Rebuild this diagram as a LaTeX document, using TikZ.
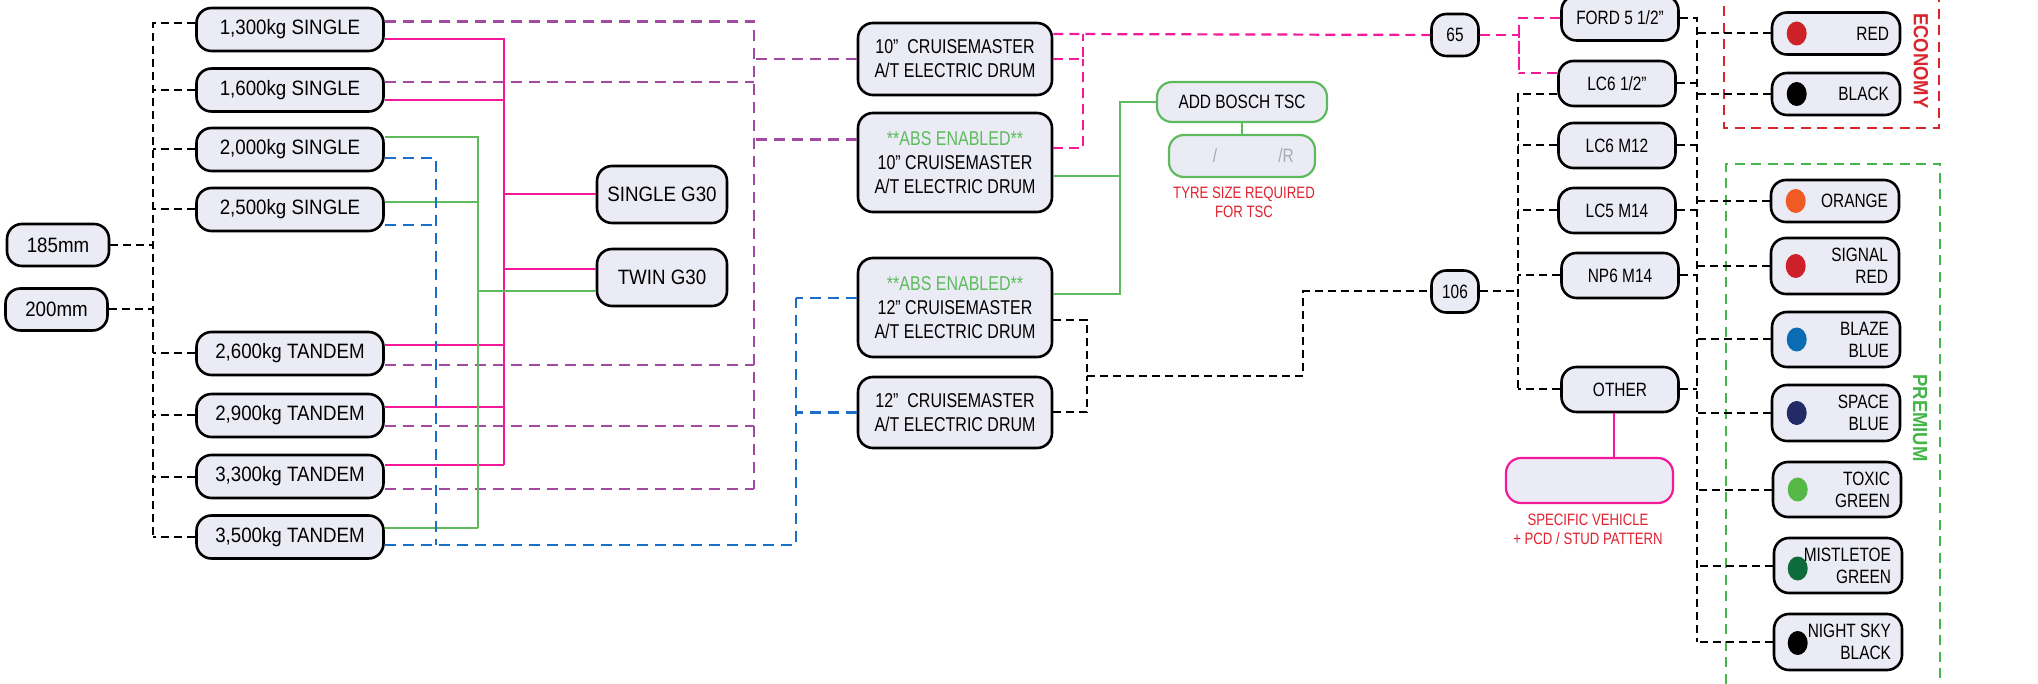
\documentclass[tikz,border=0pt]{standalone}
\usepackage{fontspec}
\setmainfont{Liberation Sans}[FakeStretch=0.9]
\newfontfamily\narrowfont{Liberation Sans}[FakeStretch=0.8]
\usetikzlibrary{positioning}

\definecolor{boxfill}{HTML}{EBEBF5}
\definecolor{plum}{HTML}{A349A4}
\definecolor{hotpink}{HTML}{F5189B}
\definecolor{leaf}{HTML}{5DBB5D}
\definecolor{sky}{HTML}{1A6FC8}
\definecolor{capred}{HTML}{E0202F}
\definecolor{tsgrey}{HTML}{A8A8B0}
\definecolor{ecored}{HTML}{D9262E}
\definecolor{premgreen}{HTML}{44B549}
\definecolor{dred}{HTML}{CE2029}
\definecolor{dorange}{HTML}{F05A24}
\definecolor{dblaze}{HTML}{0A6DB3}
\definecolor{dspace}{HTML}{232B66}
\definecolor{dtoxic}{HTML}{56B847}
\definecolor{dmist}{HTML}{0E6B3B}

\newcommand{\fbig}{\fontsize{20.8}{24}\selectfont}
\newcommand{\fdrum}{\narrowfont\fontsize{20}{24}\selectfont}
\newcommand{\fmid}{\narrowfont\fontsize{19.3}{22}\selectfont}
\newcommand{\fcap}{\narrowfont\fontsize{16.5}{19}\selectfont}
\newcommand{\fside}{\fontsize{20.5}{24}\selectfont\bfseries}

\begin{document}
\begin{tikzpicture}[x=1pt,y=-1pt,
  pill/.style={draw, line width=2.6pt, rounded corners=15pt, fill=boxfill, inner sep=0pt, align=center},
  sizebox/.style={pill, minimum width=102pt, minimum height=42pt, font=\fbig},
  wtbox/.style={pill, minimum width=187pt, minimum height=43pt, font=\fbig},
  gbox/.style={pill, minimum width=130pt, minimum height=57pt, font=\fbig},
  drumbox/.style={pill, minimum width=194pt, minimum height=72pt, font=\fdrum},
  numbox/.style={pill, minimum width=47pt, minimum height=42pt, font=\fmid},
  wheelbox/.style={pill, minimum width=117pt, minimum height=45pt, font=\fmid},
  colbox/.style={pill, minimum width=128pt, minimum height=42pt, text width=106pt, inner xsep=11pt, align=flush right, font=\fmid},
  tscbox/.style={pill, draw=leaf, line width=2.2pt, font=\fmid},
  blk/.style={draw=black, line width=2pt, dash pattern=on 8pt off 5pt},
  plumline/.style={draw=plum, line width=2.2pt, dash pattern=on 11pt off 7pt},
  pinkline/.style={draw=hotpink, line width=2pt},
  pinkdash/.style={draw=hotpink, line width=2.2pt, dash pattern=on 10pt off 6pt},
  leafline/.style={draw=leaf, line width=2pt},
  skydash/.style={draw=sky, line width=2.2pt, dash pattern=on 11pt off 7pt},
  groupdash/.style={line width=2pt, dash pattern=on 10pt off 6.5pt}]

\useasboundingbox (0,0) rectangle (2038,684);

% axle sizes and weights
\node[sizebox] (s185) at (58,245) {185mm};
\node[sizebox] (s200) at (56.5,309.5) {200mm};
\node[wtbox] (w1300) at (290,29.5) {1,300kg SINGLE};
\node[wtbox] (w1600) at (290,90) {1,600kg SINGLE};
\node[wtbox] (w2000) at (290,149.5) {2,000kg SINGLE};
\node[wtbox] (w2500) at (290,209.5) {2,500kg SINGLE};
\node[wtbox] (w2600) at (290,353.5) {2,600kg TANDEM};
\node[wtbox] (w2900) at (290,415.5) {2,900kg TANDEM};
\node[wtbox] (w3300) at (290,476.5) {3,300kg TANDEM};
\node[wtbox] (w3500) at (290,537) {3,500kg TANDEM};

\node[gbox] (sg30) at (662,194.5) {SINGLE G30};
\node[gbox] (tg30) at (662,277.5) {TWIN G30};

% brakes
\node[drumbox] (d10) at (955,59) {10”~~CRUISEMASTER\\A/T ELECTRIC DRUM};
\node[drumbox, minimum height=99pt] (a10) at (955,162.5) {\textcolor{leaf}{**ABS ENABLED**}\\10” CRUISEMASTER\\A/T ELECTRIC DRUM};
\node[drumbox, minimum height=99pt] (ab12) at (955,307.5) {\textcolor{leaf}{**ABS ENABLED**}\\12” CRUISEMASTER\\A/T ELECTRIC DRUM};
\node[drumbox, minimum height=71pt] (d12) at (955,412.5) {12”~~CRUISEMASTER\\A/T ELECTRIC DRUM};

\node[tscbox, minimum width=170pt, minimum height=40pt] (bosch) at (1242,102) {ADD BOSCH TSC};
\node[tscbox, minimum width=146pt, minimum height=42pt] (tyre) at (1242,156) {};
\node[font=\fmid, text=tsgrey] (slash1) at ([xshift=-27pt]tyre.center) {/};
\node[font=\fmid, text=tsgrey] (slash2) at ([xshift=44pt]tyre.center) {/R};
\node[font=\fcap, text=capred, align=center] (tyrecap) at (1244,202) {TYRE SIZE REQUIRED\\FOR TSC};

% studs
\node[numbox] (n65) at (1455,35) {65};
\node[numbox] (n106) at (1455,291.5) {106};
\node[wheelbox] (ford) at (1620,18) {FORD 5 1/2”};
\node[wheelbox] (l612) at (1617,83.5) {LC6 1/2”};
\node[wheelbox] (lm12) at (1617,145.5) {LC6 M12};
\node[wheelbox] (l5m14) at (1617,210.5) {LC5 M14};
\node[wheelbox] (np6) at (1620,275.5) {NP6 M14};
\node[wheelbox] (other) at (1620,389.5) {OTHER};
\node[pill, draw=hotpink, line width=2.2pt, minimum width=167pt, minimum height=45pt] (vehicle) at (1589.5,480.5) {};
\node[font=\fcap, text=capred, align=center] (vehcap) at (1588,529.5) {SPECIFIC VEHICLE\\+ PCD / STUD PATTERN};

% colours
\node[colbox] (red) at (1836,33.5) {RED};
\node[colbox] (black) at (1836,94) {BLACK};
\node[colbox] (orange) at (1835,201) {ORANGE};
\node[colbox, minimum height=56pt] (sigred) at (1835,266) {SIGNAL\\RED};
\node[colbox, minimum height=55pt] (blaze) at (1836,339.5) {BLAZE\\BLUE};
\node[colbox, minimum height=56pt] (space) at (1836,413) {SPACE\\BLUE};
\node[colbox, minimum height=55pt] (toxic) at (1837,489.5) {TOXIC\\GREEN};
\node[colbox, minimum height=55pt] (mist) at (1838,565.5) {MISTLETOE\\GREEN};
\node[colbox, minimum height=56pt] (nsky) at (1838,642) {NIGHT SKY\\BLACK};
\foreach \n/\c in {red/dred,black/black,orange/dorange,sigred/dred,blaze/dblaze,space/dspace,toxic/dtoxic}
  \fill[\c] ([xshift=26pt]\n.west) ellipse (10pt and 12pt);
\fill[dmist] ([xshift=25pt,yshift=-3pt]mist.west) ellipse (10pt and 12pt);
\fill[black] ([xshift=25pt,yshift=-1pt]nsky.west) ellipse (10pt and 12pt);

\draw[groupdash, draw=ecored] (1724,-10) |- (1939,128) -- (1939,-10);
\node[font=\fside, text=ecored, rotate=-90] (eco) at (1921,61) {ECONOMY};
\draw[groupdash, draw=premgreen] (1726,700) |- (1940,164) -- (1940,700);
\node[font=\fside, text=premgreen, rotate=-90] (prem) at (1920,418) {PREMIUM};

% size -> weight
\coordinate (jl) at (153,536);
\draw[blk] ([yshift=6pt]w1300.west) -| (jl);
\foreach \n in {w1600,w2000,w2500,w2600,w2900,w3300,w3500,s185,s200}
  \draw[blk] (\n) -- (\n -| jl);

% weight -> 10 inch drums
\coordinate (jp) at (754,489);
\draw[plumline] ([yshift=8pt]w1300.east) -| (jp);
\foreach \n/\s in {w1600/8,w2600/-11.5,w2900/-10.5,w3300/-12.5}
  \draw[plumline] ([yshift=\s pt]\n.east) -- ([yshift=\s pt]\n.east -| jp);
\draw[plumline] (d10) -- (d10 -| jp);
\draw[plumline] ([yshift=23pt]a10.west) -- ([yshift=23pt]a10.west -| jp);

% weight -> G30
\coordinate (jk) at (504,465);
\draw[pinkline] ([yshift=-9.5pt]w1300.east) -| (jk);
\foreach \n/\s in {w1600/-10,w2600/8.5,w2900/8.5,w3300/11.5}
  \draw[pinkline] ([yshift=\s pt]\n.east) -- ([yshift=\s pt]\n.east -| jk);
\draw[pinkline] (sg30) -- (sg30 -| jk);
\draw[pinkline] ([yshift=8.5pt]tg30.west) -- ([yshift=8.5pt]tg30.west -| jk);

\coordinate (jg) at (478,528);
\draw[leafline] ([yshift=12.5pt]w2000.east) -| (jg);
\foreach \n/\s in {w2500/7.5,w3500/9}
  \draw[leafline] ([yshift=\s pt]\n.east) -- ([yshift=\s pt]\n.east -| jg);
\draw[leafline] ([yshift=-13.5pt]tg30.west) -- ([yshift=-13.5pt]tg30.west -| jg);

% weight -> 12 inch drums
\coordinate (jb) at (436,545);
\coordinate (jb2) at (796,298);
\draw[skydash] ([yshift=-8.5pt]w2000.east) -| (jb);
\draw[skydash] ([yshift=-15.5pt]w2500.east) -- ([yshift=-15.5pt]w2500.east -| jb);
\draw[skydash] ([yshift=-8pt]w3500.east) -| (jb2);
\draw[skydash] ([yshift=9.5pt]ab12.west) -- (jb2);
\draw[skydash] (d12) -- (d12 -| jb2);

% drums -> studs
\coordinate (jd) at (1083,34);
\draw[pinkdash] ([yshift=25pt]d10.east) -- (n65);
\draw[pinkdash] (d10) -| (jd);
\draw[pinkdash] ([yshift=14.5pt]a10.east) -| (d10 -| jd);

\coordinate (jt) at (1120,102);
\draw[leafline] ([yshift=-13.5pt]a10.east) -| (jt) -- (bosch);
\draw[leafline] ([yshift=13.5pt]ab12.east) -| (jt);
\draw[leafline] (bosch) -- (tyre);

\coordinate (jm) at (1087,376);
\coordinate (jn) at (1303,291.5);
\draw[blk] ([yshift=-12.5pt]ab12.east) -| (jm);
\draw[blk] (d12) -| (jm);
\draw[blk] (jm) -| (jn) -- (n106);

% studs -> wheels
\coordinate (jw) at (1519,73);
\draw[pinkdash] (n65) -| (jw);
\draw[pinkdash] (ford) -| (jw);
\draw[pinkdash] ([yshift=10.5pt]l612.west) -- (jw);

\coordinate (jx) at (1518,389.5);
\draw[blk] ([yshift=-10.5pt]l612.west) -| (jx);
\foreach \n in {n106,lm12,l5m14,np6,other}
  \draw[blk] (\n) -- (\n -| jx);
\draw[pinkline] ([xshift=-6pt]other.south) -- ([xshift=-6pt]other.south |- vehicle.north);

% wheels -> colours
\coordinate (jc) at (1697,642);
\draw[blk] (ford) -| (jc);
\foreach \n in {l612,lm12,l5m14,np6,other,red,black,orange,sigred,blaze,space,toxic,mist,nsky}
  \draw[blk] (\n) -- (\n -| jc);

\end{tikzpicture}
\end{document}
